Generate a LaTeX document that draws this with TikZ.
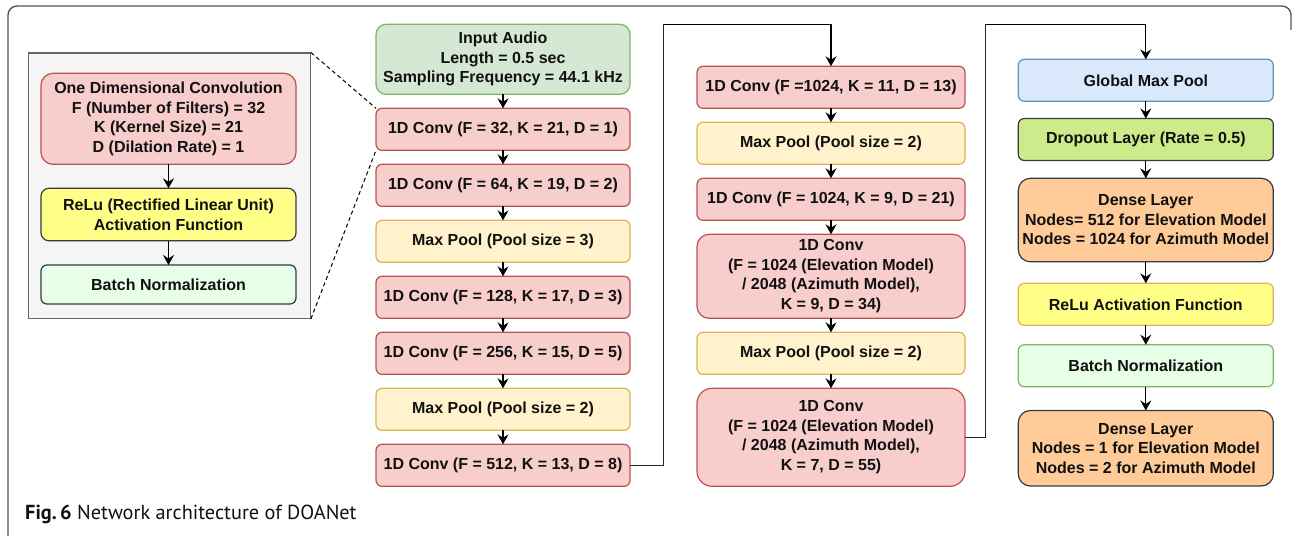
\documentclass[tikz,border=0pt]{standalone}
\usepackage{fontspec}
\setmainfont{Liberation Sans}
\newfontfamily\capfont{PT Sans}
\usetikzlibrary{arrows.meta}
\definecolor{convF}{HTML}{F8CECC}\definecolor{convS}{HTML}{B85450}
\definecolor{poolF}{HTML}{FFF2CC}\definecolor{poolS}{HTML}{D6B656}
\definecolor{inF}{HTML}{D5E8D4}\definecolor{inS}{HTML}{82B366}
\definecolor{gmpF}{HTML}{DAE8FC}\definecolor{gmpS}{HTML}{6C8EBF}
\definecolor{dropF}{HTML}{CDEB8B}\definecolor{darkS}{HTML}{36393D}
\definecolor{denseF}{HTML}{FFCC99}
\definecolor{reluF}{HTML}{FFFF88}
\definecolor{bnF}{HTML}{E6FFE6}
\definecolor{grayF}{HTML}{F5F5F5}\definecolor{grayS}{HTML}{666666}
\definecolor{frameS}{HTML}{555555}
\definecolor{txt}{HTML}{111111}
\begin{document}
\begin{tikzpicture}[x=1pt,y=-1pt,
  box/.style={draw, line width=1.2pt, rounded corners=6pt, align=center,
    font=\bfseries\fontsize{16}{19.5}\selectfont, text=txt,
    anchor=north west, inner sep=0pt, outer sep=0pt},
  conv/.style={box, fill=convF, draw=convS},
  pool/.style={box, fill=poolF, draw=poolS},
  inp/.style={box, fill=inF, draw=inS},
  gmp/.style={box, fill=gmpF, draw=gmpS},
  drop/.style={box, fill=dropF, draw=darkS},
  dense/.style={box, fill=denseF, draw=darkS},
  reluR/.style={box, fill=reluF, draw=poolS},
  reluL/.style={box, fill=reluF, draw=darkS},
  bnR/.style={box, fill=bnF, draw=inS},
  bnL/.style={box, fill=bnF, draw=darkS},
  big/.style={rounded corners=12pt},
  arr/.style={draw=black, line width=1.3pt, -{Stealth[length=10pt,width=11pt,inset=3.5pt]}},
  conn/.style={draw=black!85, line width=1.3pt},
  zoomline/.style={draw=black, line width=1pt, dash pattern=on 4pt off 3pt}
]
\useasboundingbox (0,0) rectangle (1292,535);
% outer frame
\draw[frameS, line width=1.4pt, rounded corners=9pt] (8,540) -- (8,6) -- (1291,6) -- (1291,30);
% caption
\node[anchor=base west, inner sep=0pt, font=\capfont\fontsize{20.3}{24}\selectfont, text=txt] (cap) at (25,519) {\textbf{Fig.\,6} Network architecture of DOANet};

% left inset
\node[draw=grayS, fill=grayF, line width=1.4pt, anchor=north west, inner sep=0pt, minimum width=282pt, minimum height=265pt] (inset) at (27.5,52.5) {};
\node[conv, big, minimum width=255pt, minimum height=91pt] (l1) at (41,73.3) {One Dimensional Convolution\\F (Number of Filters) = 32\\K (Kernel Size) = 21\\D (Dilation Rate) = 1};
\node[reluL, rounded corners=8pt, minimum width=255pt, minimum height=52.5pt] (l2) at (41,188.3) {ReLu (Rectified Linear Unit)\\Activation Function};
\node[bnL, minimum width=255pt, minimum height=39pt] (l3) at (41,265) {Batch Normalization};
\draw[arr] (l1) -- (l2);
\draw[arr] (l2) -- (l3);

% column 1
\node[inp, rounded corners=10pt, minimum width=254pt, minimum height=70pt] (a0) at (376,24.3) {Input Audio\\Length = 0.5 sec\\Sampling Frequency = 44.1 kHz};
\node[conv, minimum width=254pt, minimum height=42pt] (a1) at (376,108.3) {1D Conv (F = 32, K = 21, D = 1)};
\node[conv, minimum width=254pt, minimum height=42pt] (a2) at (376,164.3) {1D Conv (F = 64, K = 19, D = 2)};
\node[pool, minimum width=254pt, minimum height=42pt] (a3) at (376,220.3) {Max Pool (Pool size = 3)};
\node[conv, minimum width=254pt, minimum height=42pt] (a4) at (376,276.3) {1D Conv (F = 128, K = 17, D = 3)};
\node[conv, minimum width=254pt, minimum height=42pt] (a5) at (376,332.3) {1D Conv (F = 256, K = 15, D = 5)};
\node[pool, minimum width=254pt, minimum height=42pt] (a6) at (376,388.3) {Max Pool (Pool size = 2)};
\node[conv, minimum width=254pt, minimum height=42pt] (a7) at (376,444.3) {1D Conv (F = 512, K = 13, D = 8)};
\foreach \i/\j in {a0/a1,a1/a2,a2/a3,a3/a4,a4/a5,a5/a6,a6/a7} \draw[arr] (\i) -- (\j);

% zoom lines
\draw[zoomline] (inset.north east) -- (a1.north west);
\draw[zoomline] (inset.south east) -- (a1.south west);

% column 2
\node[conv, minimum width=268pt, minimum height=42pt] (b1) at (697,66.3) {1D Conv (F =1024, K = 11, D = 13)};
\node[pool, minimum width=268pt, minimum height=42pt] (b2) at (697,122.3) {Max Pool (Pool size = 2)};
\node[conv, minimum width=268pt, minimum height=42pt] (b3) at (697,178.3) {1D Conv (F = 1024, K = 9, D = 21)};
\node[conv, big, minimum width=268pt, minimum height=84pt] (b4) at (697,234.3) {1D Conv\\(F = 1024 (Elevation Model)\\/ 2048 (Azimuth Model),\\K = 9, D = 34)};
\node[pool, minimum width=268pt, minimum height=42pt] (b5) at (697,332.3) {Max Pool (Pool size = 2)};
\node[conv, rounded corners=15pt, minimum width=268pt, minimum height=98pt] (b6) at (697,388.3) {1D Conv\\(F = 1024 (Elevation Model)\\/ 2048 (Azimuth Model),\\K = 7, D = 55)};
\foreach \i/\j in {b1/b2,b2/b3,b3/b4,b4/b5,b5/b6} \draw[arr] (\i) -- (\j);

% column 3
\node[gmp, minimum width=255pt, minimum height=42pt] (c1) at (1018.3,59.3) {Global Max Pool};
\node[drop, minimum width=255pt, minimum height=42pt] (c2) at (1018.3,118.5) {Dropout Layer (Rate = 0.5)};
\node[dense, big, minimum width=255pt, minimum height=83.5pt] (c3) at (1018.3,178.3) {Dense Layer\\Nodes= 512 for Elevation Model\\Nodes = 1024 for Azimuth Model};
\node[reluR, minimum width=255pt, minimum height=42pt] (c4) at (1018.3,283.3) {ReLu Activation Function};
\node[bnR, minimum width=255pt, minimum height=42pt] (c5) at (1018.3,344.7) {Batch Normalization};
\node[dense, big, minimum width=255pt, minimum height=75.5pt] (c6) at (1018.3,410.5) {Dense Layer\\Nodes = 1 for Elevation Model\\Nodes = 2 for Azimuth Model};
\foreach \i/\j in {c1/c2,c2/c3,c3/c4,c4/c5,c5/c6} \draw[arr] (\i) -- (\j);

% long connectors
\coordinate (k1) at (663.5,24.3);
\coordinate (k2) at (985.5,24.3);
\draw[conn] (a7.east) -| (k1);
\draw[arr] (k1) -| (b1.north);
\draw[conn] (b6.east) -| (k2);
\draw[arr] (k2) -| (c1.north);
\end{tikzpicture}
\end{document}
